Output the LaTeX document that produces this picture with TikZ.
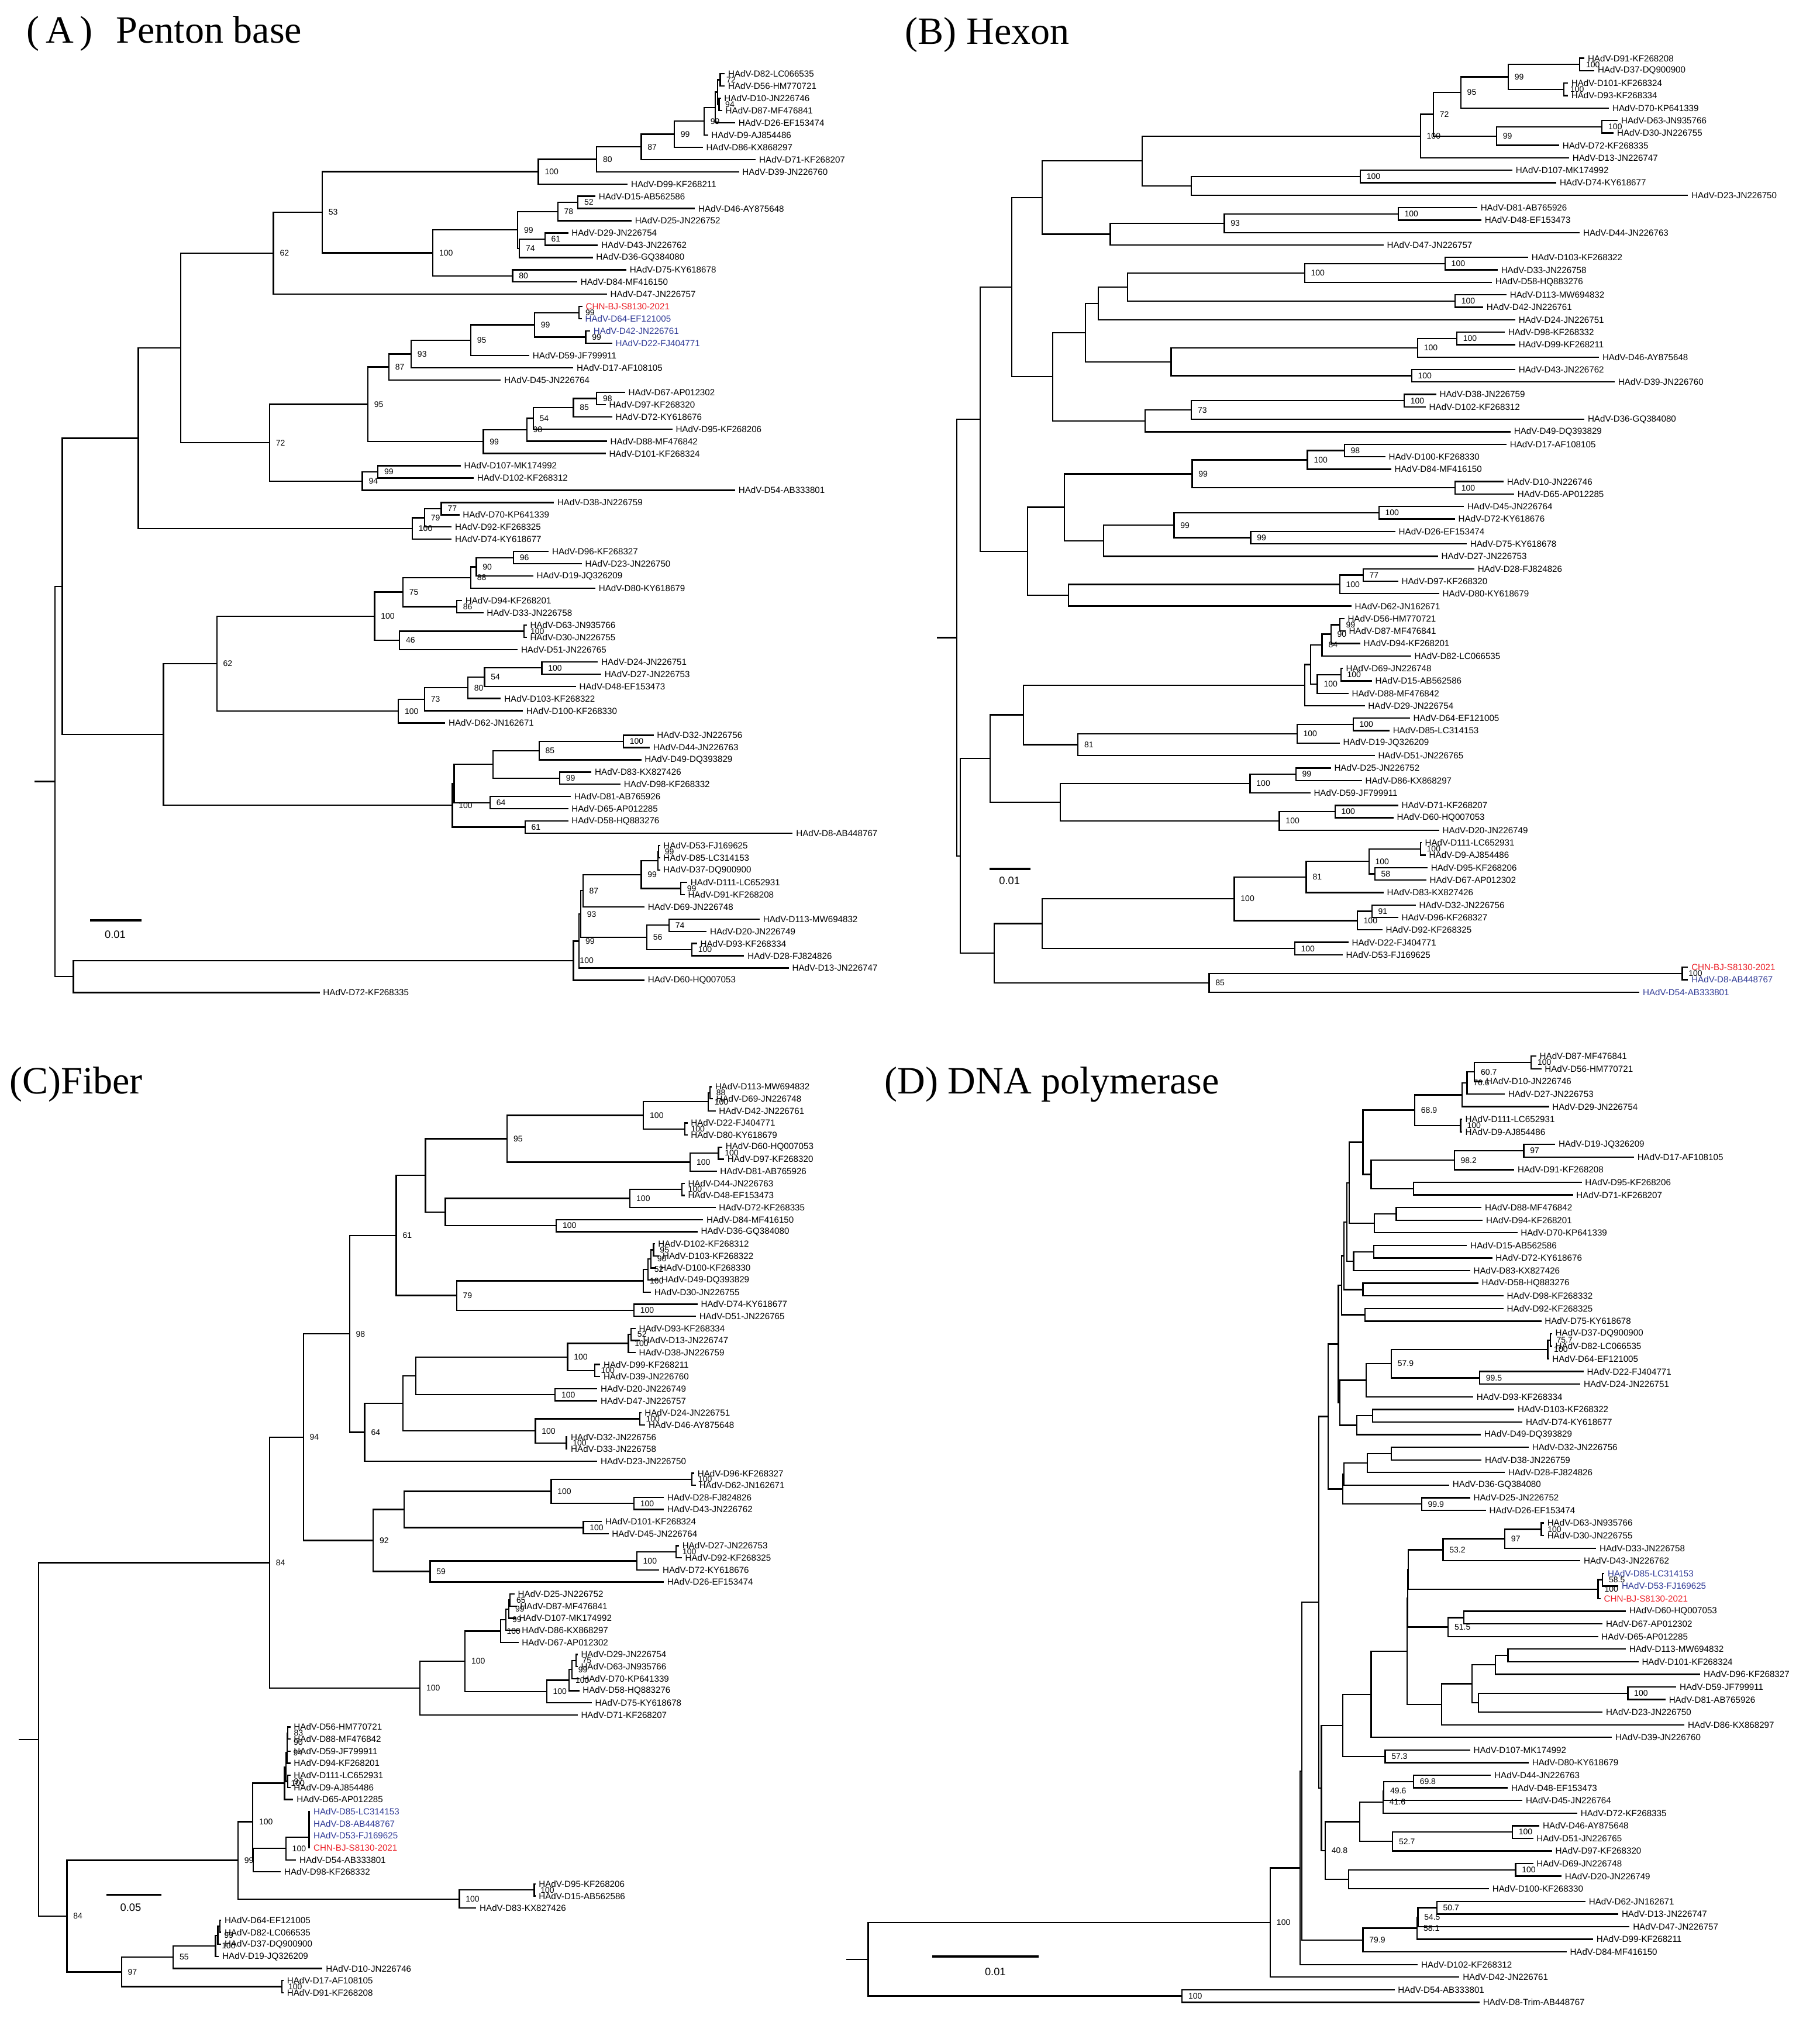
\documentclass[tikz,border=0pt]{standalone}
\usepackage{fontspec}
\setmainfont{Liberation Serif}
\setsansfont{Liberation Sans}
\usetikzlibrary{calc}

\definecolor{isolatered}{RGB}{236,32,40}
\definecolor{refblue}{RGB}{48,58,150}

\tikzset{
  treeline/.style={line width=0.6pt},
  leaflabel/.style={anchor=west, inner xsep=1.3pt, inner ysep=0.2pt, font=\sffamily\fontsize{3.9}{4.5}\selectfont},
  bootval/.style={anchor=west, inner xsep=2.6pt, inner ysep=0pt, font=\sffamily\fontsize{3.6}{4}\selectfont},
  isolate/.style={text=isolatered},
  refstrain/.style={text=refblue},
  paneltitle/.style={anchor=west, inner sep=0pt, font=\fontsize{17}{20}\selectfont},
  scalebar/.style={line width=1pt},
  scalelabel/.style={font=\sffamily\fontsize{4.7}{5}\selectfont}
}

% tip: [style]{name}{x of tip}{row}{label}
\newcommand\leaf[5][]{\node[leaflabel,#1] (#2) at (#3,{\ytop+(#4-1)*\ystep}) {#5};}
% clade: {name}{x}{upper child}{lower child}{bootstrap}
\newcommand\clade[5]{%
  \coordinate (mid) at ($(#3)!0.5!(#4)$);
  \coordinate (xpos) at (#2,0);
  \coordinate (#1) at (xpos |- mid);
  \draw[treeline] (#1) |- (#3) (#1) |- (#4);
  \node[bootval] at (#1) {#5};}
% root stub: {name}{x}{root}
\newcommand\stub[3]{\coordinate (xpos) at (#2,0); \coordinate (#1) at (xpos |- #3); \draw[treeline] (#1) -- (#3);}

\begin{document}
\begin{tikzpicture}[x=0.02cm,y=-0.02cm]
  \path[fill=white,use as bounding box] (0,0) rectangle (1406,1568);

  % PANEL A: PENTON BASE
  \begin{scope}
    \def\ytop{57}\def\ystep{9.467}
    \node[paneltitle] (ttlA) at (20,26) {(\,A\,)\hspace{6pt} Penton base};
    \leaf{A1}{560}{1}{HAdV-D82-LC066535}
    \leaf{A2}{560}{2}{HAdV-D56-HM770721}
    \leaf{A3}{557}{3}{HAdV-D10-JN226746}
    \leaf{A4}{558}{4}{HAdV-D87-MF476841}
    \leaf{A5}{568}{5}{HAdV-D26-EF153474}
    \leaf{A6}{547}{6}{HAdV-D9-AJ854486}
    \leaf{A7}{543}{7}{HAdV-D86-KX868297}
    \leaf{A8}{584}{8}{HAdV-D71-KF268207}
    \leaf{A9}{571}{9}{HAdV-D39-JN226760}
    \leaf{A10}{485}{10}{HAdV-D99-KF268211}
    \leaf{A11}{460}{11}{HAdV-D15-AB562586}
    \leaf{A12}{537}{12}{HAdV-D46-AY875648}
    \leaf{A13}{488}{13}{HAdV-D25-JN226752}
    \leaf{A14}{439}{14}{HAdV-D29-JN226754}
    \leaf{A15}{462}{15}{HAdV-D43-JN226762}
    \leaf{A16}{458}{16}{HAdV-D36-GQ384080}
    \leaf{A17}{484}{17}{HAdV-D75-KY618678}
    \leaf{A18}{446}{18}{HAdV-D84-MF416150}
    \leaf{A19}{469}{19}{HAdV-D47-JN226757}
    \leaf[isolate]{A20}{450}{20}{CHN-BJ-S8130-2021}
    \leaf[refstrain]{A21}{449.5}{21}{HAdV-D64-EF121005}
    \leaf[refstrain]{A22}{456}{22}{HAdV-D42-JN226761}
    \leaf[refstrain]{A23}{473}{23}{HAdV-D22-FJ404771}
    \leaf{A24}{409}{24}{HAdV-D59-JF799911}
    \leaf{A25}{443}{25}{HAdV-D17-AF108105}
    \leaf{A26}{387}{26}{HAdV-D45-JN226764}
    \leaf{A27}{483}{27}{HAdV-D67-AP012302}
    \leaf{A28}{468}{28}{HAdV-D97-KF268320}
    \leaf{A29}{473}{29}{HAdV-D72-KY618676}
    \leaf{A30}{519.5}{30}{HAdV-D95-KF268206}
    \leaf{A31}{469}{31}{HAdV-D88-MF476842}
    \leaf{A32}{468}{32}{HAdV-D101-KF268324}
    \leaf{A33}{356}{33}{HAdV-D107-MK174992}
    \leaf{A34}{366}{34}{HAdV-D102-KF268312}
    \leaf{A35}{568}{35}{HAdV-D54-AB333801}
    \leaf{A36}{428}{36}{HAdV-D38-JN226759}
    \leaf{A37}{355}{37}{HAdV-D70-KP641339}
    \leaf{A38}{349}{38}{HAdV-D92-KF268325}
    \leaf{A39}{349}{39}{HAdV-D74-KY618677}
    \leaf{A40}{424}{40}{HAdV-D96-KF268327}
    \leaf{A41}{449.5}{41}{HAdV-D23-JN226750}
    \leaf{A42}{412}{42}{HAdV-D19-JQ326209}
    \leaf{A43}{460}{43}{HAdV-D80-KY618679}
    \leaf{A44}{357}{44}{HAdV-D94-KF268201}
    \leaf{A45}{373.5}{45}{HAdV-D33-JN226758}
    \leaf{A46}{407}{46}{HAdV-D63-JN935766}
    \leaf{A47}{407}{47}{HAdV-D30-JN226755}
    \leaf{A48}{400}{48}{HAdV-D51-JN226765}
    \leaf{A49}{462}{49}{HAdV-D24-JN226751}
    \leaf{A50}{464.5}{50}{HAdV-D27-JN226753}
    \leaf{A51}{445}{51}{HAdV-D48-EF153473}
    \leaf{A52}{387}{52}{HAdV-D103-KF268322}
    \leaf{A53}{404}{53}{HAdV-D100-KF268330}
    \leaf{A54}{344}{54}{HAdV-D62-JN162671}
    \leaf{A55}{505}{55}{HAdV-D32-JN226756}
    \leaf{A56}{502}{56}{HAdV-D44-JN226763}
    \leaf{A57}{495.5}{57}{HAdV-D49-DQ393829}
    \leaf{A58}{457}{58}{HAdV-D83-KX827426}
    \leaf{A59}{479.5}{59}{HAdV-D98-KF268332}
    \leaf{A60}{441}{60}{HAdV-D81-AB765926}
    \leaf{A61}{439}{61}{HAdV-D65-AP012285}
    \leaf{A62}{439}{62}{HAdV-D58-HQ883276}
    \leaf{A63}{612.5}{63}{HAdV-D8-AB448767}
    \leaf{A64}{510}{64}{HAdV-D53-FJ169625}
    \leaf{A65}{510}{65}{HAdV-D85-LC314153}
    \leaf{A66}{510}{66}{HAdV-D37-DQ900900}
    \leaf{A67}{531}{67}{HAdV-D111-LC652931}
    \leaf{A68}{529}{68}{HAdV-D91-KF268208}
    \leaf{A69}{498}{69}{HAdV-D69-JN226748}
    \leaf{A70}{587}{70}{HAdV-D113-MW694832}
    \leaf{A71}{546}{71}{HAdV-D20-JN226749}
    \leaf{A72}{538.5}{72}{HAdV-D93-KF268334}
    \leaf{A73}{575}{73}{HAdV-D28-FJ824826}
    \leaf{A74}{609.5}{74}{HAdV-D13-JN226747}
    \leaf{A75}{498}{75}{HAdV-D60-HQ007053}
    \leaf{A76}{247}{76}{HAdV-D72-KF268335}
    % clades
    \clade{a1}{556.4}{A1}{A2}{72}
    \clade{a2}{555.5}{A3}{A4}{94}
    \clade{a3}{554.5}{a1}{a2}{}
    \clade{a4}{552.5}{a3}{A5}{}
    \clade{a5}{544}{a4}{A6}{99}
    \clade{a6}{521}{a5}{A7}{99}
    \clade{a7}{495.5}{a6}{A8}{87}
    \clade{a8}{461}{a7}{A9}{80}
    \clade{a9}{416}{a8}{A10}{100}
    \clade{a10}{446.5}{A11}{A12}{52}
    \clade{a11}{431}{a10}{A13}{78}
    \clade{a12}{421}{A14}{A15}{61}
    \clade{a13}{401.4}{a12}{A16}{74}
    \clade{a14}{400}{a11}{a13}{99}
    \clade{a15}{396}{A17}{A18}{80}
    \clade{a16}{334.5}{a14}{a15}{100}
    \clade{a17}{249}{a9}{a16}{53}
    \clade{a18}{211.3}{a17}{A19}{62}
    \clade{a19}{447.4}{A20}{A21}{99}
    \clade{a20}{452.5}{A22}{A23}{99}
    \clade{a21}{413}{a19}{a20}{99}
    \clade{a22}{363.7}{a21}{A24}{95}
    \clade{a23}{317.7}{a22}{A25}{93}
    \clade{a24}{300.5}{a23}{A26}{87}
    \clade{a26}{461}{A27}{A28}{98}
    \clade{a27}{443}{a26}{A29}{85}
    \clade{a28}{412}{a27}{A30}{54}
    \clade{a29}{407}{a28}{A31}{98}
    \clade{a30}{373.5}{a29}{A32}{99}
    \clade{a25}{284.2}{a24}{a30}{95}
    \clade{a31}{292}{A33}{A34}{99}
    \clade{a32}{280}{a31}{A35}{94}
    \clade{a33}{208.3}{a25}{a32}{72}
    \clade{a34}{139.6}{a18}{a33}{}
    \clade{a35}{341}{A36}{A37}{77}
    \clade{a36}{328}{a35}{A38}{79}
    \clade{a37}{318.6}{a36}{A39}{100}
    \clade{a38}{106.9}{a34}{a37}{}
    \clade{a40}{396.7}{A40}{A41}{96}
    \clade{a41}{368}{a40}{A42}{90}
    \clade{a42}{363.7}{a41}{A43}{88}
    \clade{a43}{352.9}{A44}{A45}{86}
    \clade{a44}{311.3}{a42}{a43}{75}
    \clade{a45}{405}{A46}{A47}{100}
    \clade{a46}{308.7}{a45}{A48}{46}
    \clade{a47}{289.4}{a44}{a46}{100}
    \clade{a48}{418.6}{A49}{A50}{100}
    \clade{a49}{374.4}{a48}{A51}{54}
    \clade{a50}{361.5}{a49}{A52}{80}
    \clade{a51}{328}{a50}{A53}{73}
    \clade{a52}{307.8}{a51}{A54}{100}
    \clade{a53}{167.5}{a47}{a52}{62}
    \clade{a54}{481.7}{A55}{A56}{100}
    \clade{a55}{416.5}{a54}{A57}{85}
    \clade{a56}{432.4}{A58}{A59}{99}
    \clade{a57}{380.8}{a55}{a56}{}
    \clade{a58}{378.7}{A60}{A61}{64}
    \clade{a59}{350.8}{a57}{a58}{}
    \clade{a60}{405.7}{A62}{A63}{61}
    \clade{a61}{349.5}{a59}{a60}{100}
    \clade{a62}{126.3}{a53}{a61}{}
    \clade{a39}{48.1}{a38}{a62}{}
    \clade{a63}{508.8}{A64}{A65}{99}
    \clade{a64}{508.3}{a63}{A66}{}
    \clade{a65}{526}{A67}{A68}{99}
    \clade{a66}{495.5}{a64}{a65}{99}
    \clade{a67}{450.4}{a66}{A69}{87}
    \clade{a68}{516.9}{A70}{A71}{74}
    \clade{a69}{534.5}{A72}{A73}{100}
    \clade{a70}{499.8}{a68}{a69}{56}
    \clade{a71}{448.7}{a67}{a70}{93}
    \clade{a72}{447.4}{a71}{A74}{99}
    \clade{a73}{443.1}{a72}{A75}{100}
    \clade{a74}{56.7}{a73}{A76}{}
    \clade{a75}{42.5}{a39}{a74}{}
    \stub{a0}{26.7}{a75}
    % scale
    \coordinate (sbA1) at (69.6,711.4); \coordinate (sbA2) at (109.5,711.4);
    \draw[scalebar] (sbA1) -- (sbA2);
    \node[scalelabel] (sbAt) at (89,722) {0.01};
  \end{scope}

  % PANEL B: HEXON
  \begin{scope}
    \def\ytop{45}\def\ystep{9.623}
    \node[paneltitle] (ttlB) at (699,27) {(B) Hexon};
    \leaf{B1}{1224.2}{1}{HAdV-D91-KF268208}
    \leaf{B2}{1231.9}{2}{HAdV-D37-DQ900900}
    \leaf{B3}{1211.5}{3}{HAdV-D101-KF268324}
    \leaf{B4}{1211.5}{4}{HAdV-D93-KF268334}
    \leaf{B5}{1243.2}{5}{HAdV-D70-KP641339}
    \leaf{B6}{1250}{6}{HAdV-D63-JN935766}
    \leaf{B7}{1246.8}{7}{HAdV-D30-JN226755}
    \leaf{B8}{1204.7}{8}{HAdV-D72-KF268335}
    \leaf{B9}{1212.4}{9}{HAdV-D13-JN226747}
    \leaf{B10}{1168.6}{10}{HAdV-D107-MK174992}
    \leaf{B11}{1202.5}{11}{HAdV-D74-KY618677}
    \leaf{B12}{1304.3}{12}{HAdV-D23-JN226750}
    \leaf{B13}{1141.4}{13}{HAdV-D81-AB765926}
    \leaf{B14}{1144.6}{14}{HAdV-D48-EF153473}
    \leaf{B15}{1220.6}{15}{HAdV-D44-JN226763}
    \leaf{B16}{1069}{16}{HAdV-D47-JN226757}
    \leaf{B17}{1180.8}{17}{HAdV-D103-KF268322}
    \leaf{B18}{1157.2}{18}{HAdV-D33-JN226758}
    \leaf{B19}{1152.7}{19}{HAdV-D58-HQ883276}
    \leaf{B20}{1164}{20}{HAdV-D113-MW694832}
    \leaf{B21}{1146}{21}{HAdV-D42-JN226761}
    \leaf{B22}{1170.8}{22}{HAdV-D24-JN226751}
    \leaf{B23}{1162.7}{23}{HAdV-D98-KF268332}
    \leaf{B24}{1170.8}{24}{HAdV-D99-KF268211}
    \leaf{B25}{1235.5}{25}{HAdV-D46-AY875648}
    \leaf{B26}{1170.8}{26}{HAdV-D43-JN226762}
    \leaf{B27}{1247.7}{27}{HAdV-D39-JN226760}
    \leaf{B28}{1109.7}{28}{HAdV-D38-JN226759}
    \leaf{B29}{1101.6}{29}{HAdV-D102-KF268312}
    \leaf{B30}{1224.2}{30}{HAdV-D36-GQ384080}
    \leaf{B31}{1167.2}{31}{HAdV-D49-DQ393829}
    \leaf{B32}{1164}{32}{HAdV-D17-AF108105}
    \leaf{B33}{1070.4}{33}{HAdV-D100-KF268330}
    \leaf{B34}{1074.9}{34}{HAdV-D84-MF416150}
    \leaf{B35}{1161.8}{35}{HAdV-D10-JN226746}
    \leaf{B36}{1169.9}{36}{HAdV-D65-AP012285}
    \leaf{B37}{1131}{37}{HAdV-D45-JN226764}
    \leaf{B38}{1124.2}{38}{HAdV-D72-KY618676}
    \leaf{B39}{1078.1}{39}{HAdV-D26-EF153474}
    \leaf{B40}{1133.3}{40}{HAdV-D75-KY618678}
    \leaf{B41}{1111.1}{41}{HAdV-D27-JN226753}
    \leaf{B42}{1139.2}{42}{HAdV-D28-FJ824826}
    \leaf{B43}{1080.3}{43}{HAdV-D97-KF268320}
    \leaf{B44}{1112}{44}{HAdV-D80-KY618679}
    \leaf{B45}{1044.2}{45}{HAdV-D62-JN162671}
    \leaf{B46}{1038.7}{46}{HAdV-D56-HM770721}
    \leaf{B47}{1039.6}{47}{HAdV-D87-MF476841}
    \leaf{B48}{1051}{48}{HAdV-D94-KF268201}
    \leaf{B49}{1090.3}{49}{HAdV-D82-LC066535}
    \leaf{B50}{1037.4}{50}{HAdV-D69-JN226748}
    \leaf{B51}{1060}{51}{HAdV-D15-AB562586}
    \leaf{B52}{1041.9}{52}{HAdV-D88-MF476842}
    \leaf{B53}{1054.5}{53}{HAdV-D29-JN226754}
    \leaf{B54}{1089.4}{54}{HAdV-D64-EF121005}
    \leaf{B55}{1073.6}{55}{HAdV-D85-LC314153}
    \leaf{B56}{1035.1}{56}{HAdV-D19-JQ326209}
    \leaf{B57}{1062.2}{57}{HAdV-D51-JN226765}
    \leaf{B58}{1028.3}{58}{HAdV-D25-JN226752}
    \leaf{B59}{1052.3}{59}{HAdV-D86-KX868297}
    \leaf{B60}{1012.5}{60}{HAdV-D59-JF799911}
    \leaf{B61}{1080.3}{61}{HAdV-D71-KF268207}
    \leaf{B62}{1076.7}{62}{HAdV-D60-HQ007053}
    \leaf{B63}{1112}{63}{HAdV-D20-JN226749}
    \leaf{B64}{1098.4}{64}{HAdV-D111-LC652931}
    \leaf{B65}{1101.6}{65}{HAdV-D9-AJ854486}
    \leaf{B66}{1103}{66}{HAdV-D95-KF268206}
    \leaf{B67}{1102}{67}{HAdV-D67-AP012302}
    \leaf{B68}{1069}{68}{HAdV-D83-KX827426}
    \leaf{B69}{1093.9}{69}{HAdV-D32-JN226756}
    \leaf{B70}{1080.3}{70}{HAdV-D96-KF268327}
    \leaf{B71}{1068.1}{71}{HAdV-D92-KF268325}
    \leaf{B72}{1041.9}{72}{HAdV-D22-FJ404771}
    \leaf{B73}{1037.4}{73}{HAdV-D53-FJ169625}
    \leaf[isolate]{B74}{1304.3}{74}{CHN-BJ-S8130-2021}
    \leaf[refstrain]{B75}{1304.3}{75}{HAdV-D8-AB448767}
    \leaf[refstrain]{B76}{1266.7}{76}{HAdV-D54-AB333801}
    % clades
    \clade{b1}{1220.6}{B1}{B2}{100}
    \clade{b2}{1208.4}{B3}{B4}{100}
    \clade{b3}{1165.4}{b1}{b2}{99}
    \clade{b4}{1128.7}{b3}{B5}{95}
    \clade{b5}{1237.8}{B6}{B7}{100}
    \clade{b6}{1156.3}{b5}{B8}{99}
    \clade{b7}{1107.5}{b4}{b6}{72}
    \clade{b8}{1097.5}{b7}{B9}{100}
    \clade{b9}{1051}{B10}{B11}{100}
    \clade{b10}{920.6}{b9}{B12}{}
    \clade{b11}{882.6}{b8}{b10}{}
    \clade{b12}{1080.3}{B13}{B14}{100}
    \clade{b13}{946}{b12}{B15}{93}
    \clade{b14}{857.8}{b13}{B16}{}
    \clade{b15}{805.3}{b11}{b14}{}
    \clade{b16}{1116.5}{B17}{B18}{100}
    \clade{b17}{1008}{b16}{B19}{100}
    \clade{b18}{1124.2}{B20}{B21}{100}
    \clade{b19}{871.3}{b17}{b18}{}
    \clade{b20}{848.7}{b19}{B22}{}
    \clade{b21}{1125.6}{B23}{B24}{100}
    \clade{b22}{1095.3}{b21}{B25}{100}
    \clade{b23}{1090.7}{B26}{B27}{100}
    \clade{b24}{904.8}{b22}{b23}{}
    \clade{b25}{838.8}{b20}{b24}{}
    \clade{b26}{1084.9}{B28}{B29}{100}
    \clade{b27}{920.6}{b26}{B30}{73}
    \clade{b28}{884.9}{b27}{B31}{}
    \clade{b29}{813.4}{b25}{b28}{}
    \clade{b30}{781.8}{b15}{b29}{}
    \clade{b31}{1038.7}{B32}{B33}{98}
    \clade{b32}{1010.2}{b31}{B34}{100}
    \clade{b33}{1124.2}{B35}{B36}{100}
    \clade{b34}{921.1}{b32}{b33}{99}
    \clade{b35}{1065.4}{B37}{B38}{100}
    \clade{b36}{966.3}{B39}{B40}{99}
    \clade{b37}{907.1}{b35}{b36}{99}
    \clade{b38}{852.8}{b37}{B41}{}
    \clade{b39}{822.5}{b34}{b38}{}
    \clade{b40}{1053.2}{B42}{B43}{77}
    \clade{b41}{1035.1}{b40}{B44}{100}
    \clade{b42}{825.6}{b41}{B45}{}
    \clade{b43}{794}{b39}{b42}{}
    \clade{b44}{757.3}{b30}{b43}{}
    \clade{b45}{1035.1}{B46}{B47}{99}
    \clade{b46}{1028.3}{b45}{B48}{90}
    \clade{b47}{1021.5}{b46}{B49}{84}
    \clade{b48}{1036}{B50}{B51}{100}
    \clade{b49}{1017.9}{b48}{B52}{100}
    \clade{b50}{1012.5}{b47}{b49}{}
    \clade{b51}{1008}{b50}{B53}{}
    \clade{b52}{1045.5}{B54}{B55}{100}
    \clade{b53}{1002.1}{b52}{B56}{100}
    \clade{b54}{832.9}{b53}{B57}{81}
    \clade{b55}{790.8}{b51}{b54}{}
    \clade{b56}{1001.2}{B58}{B59}{99}
    \clade{b57}{965.9}{b56}{B60}{100}
    \clade{b58}{1031.5}{B61}{B62}{100}
    \clade{b59}{988.5}{b58}{B63}{100}
    \clade{b60}{819.3}{b57}{b59}{}
    \clade{b61}{765}{b55}{b60}{}
    \clade{b62}{1097.5}{B64}{B65}{100}
    \clade{b63}{1062.2}{B66}{B67}{58}
    \clade{b64}{1057.7}{b62}{b63}{100}
    \clade{b65}{1009.3}{b64}{B68}{81}
    \clade{b66}{1060}{B69}{B70}{91}
    \clade{b67}{1048.7}{b66}{B71}{100}
    \clade{b68}{953.7}{b65}{b67}{100}
    \clade{b69}{1000.3}{B72}{B73}{100}
    \clade{b70}{805.3}{b68}{b69}{}
    \clade{b71}{1299.8}{B74}{B75}{100}
    \clade{b72}{934.2}{b71}{B76}{85}
    \clade{b73}{768.2}{b70}{b72}{}
    \clade{b74}{742}{b61}{b73}{}
    \clade{b75}{739.2}{b44}{b74}{}
    \stub{b0}{723.9}{b75}
    % scale
    \coordinate (sbB1) at (764.6,671.5); \coordinate (sbB2) at (796.2,671.5);
    \draw[scalebar] (sbB1) -- (sbB2);
    \node[scalelabel] (sbBt) at (780,680.5) {0.01};
  \end{scope}

  % PANEL C: FIBER
  \begin{scope}
    \def\ytop{839.8}\def\ystep{9.335}
    \node[paneltitle] (ttlC) at (7,838) {(C)Fiber};
    \leaf{C1}{549.9}{1}{HAdV-D113-MW694832}
    \leaf{C2}{550.7}{2}{HAdV-D69-JN226748}
    \leaf{C3}{552.9}{3}{HAdV-D42-JN226761}
    \leaf{C4}{531.2}{4}{HAdV-D22-FJ404771}
    \leaf{C5}{531.2}{5}{HAdV-D80-KY618679}
    \leaf{C6}{558.1}{6}{HAdV-D60-HQ007053}
    \leaf{C7}{559.4}{7}{HAdV-D97-KF268320}
    \leaf{C8}{553.8}{8}{HAdV-D81-AB765926}
    \leaf{C9}{529}{9}{HAdV-D44-JN226763}
    \leaf{C10}{529}{10}{HAdV-D48-EF153473}
    \leaf{C11}{552.9}{11}{HAdV-D72-KF268335}
    \leaf{C12}{543.3}{12}{HAdV-D84-MF416150}
    \leaf{C13}{539}{13}{HAdV-D36-GQ384080}
    \leaf{C14}{505.9}{14}{HAdV-D102-KF268312}
    \leaf{C15}{509.4}{15}{HAdV-D103-KF268322}
    \leaf{C16}{507.2}{16}{HAdV-D100-KF268330}
    \leaf{C17}{508.5}{17}{HAdV-D49-DQ393829}
    \leaf{C18}{502.9}{18}{HAdV-D30-JN226755}
    \leaf{C19}{539}{19}{HAdV-D74-KY618677}
    \leaf{C20}{537.7}{20}{HAdV-D51-JN226765}
    \leaf{C21}{491.1}{21}{HAdV-D93-KF268334}
    \leaf{C22}{494.2}{22}{HAdV-D13-JN226747}
    \leaf{C23}{491.1}{23}{HAdV-D38-JN226759}
    \leaf{C24}{463.7}{24}{HAdV-D99-KF268211}
    \leaf{C25}{463.7}{25}{HAdV-D39-JN226760}
    \leaf{C26}{461.5}{26}{HAdV-D20-JN226749}
    \leaf{C27}{461.5}{27}{HAdV-D47-JN226757}
    \leaf{C28}{495.5}{28}{HAdV-D24-JN226751}
    \leaf{C29}{498.5}{29}{HAdV-D46-AY875648}
    \leaf{C30}{438.5}{30}{HAdV-D32-JN226756}
    \leaf{C31}{438.5}{31}{HAdV-D33-JN226758}
    \leaf{C32}{461.5}{32}{HAdV-D23-JN226750}
    \leaf{C33}{536.4}{33}{HAdV-D96-KF268327}
    \leaf{C34}{537.7}{34}{HAdV-D62-JN162671}
    \leaf{C35}{512.9}{35}{HAdV-D28-FJ824826}
    \leaf{C36}{512.9}{36}{HAdV-D43-JN226762}
    \leaf{C37}{465}{37}{HAdV-D101-KF268324}
    \leaf{C38}{470.2}{38}{HAdV-D45-JN226764}
    \leaf{C39}{524.6}{39}{HAdV-D27-JN226753}
    \leaf{C40}{526.8}{40}{HAdV-D92-KF268325}
    \leaf{C41}{509.4}{41}{HAdV-D72-KY618676}
    \leaf{C42}{512.9}{42}{HAdV-D26-EF153474}
    \leaf{C43}{397.6}{43}{HAdV-D25-JN226752}
    \leaf{C44}{399.3}{44}{HAdV-D87-MF476841}
    \leaf{C45}{398.4}{45}{HAdV-D107-MK174992}
    \leaf{C46}{400.6}{46}{HAdV-D86-KX868297}
    \leaf{C47}{400.6}{47}{HAdV-D67-AP012302}
    \leaf{C48}{446.3}{48}{HAdV-D29-JN226754}
    \leaf{C49}{446.3}{49}{HAdV-D63-JN935766}
    \leaf{C50}{447.6}{50}{HAdV-D70-KP641339}
    \leaf{C51}{447.6}{51}{HAdV-D58-HQ883276}
    \leaf{C52}{457.2}{52}{HAdV-D75-KY618678}
    \leaf{C53}{446.3}{53}{HAdV-D71-KF268207}
    \leaf{C54}{224.4}{54}{HAdV-D56-HM770721}
    \leaf{C55}{224.4}{55}{HAdV-D88-MF476842}
    \leaf{C56}{224.4}{56}{HAdV-D59-JF799911}
    \leaf{C57}{224.4}{57}{HAdV-D94-KF268201}
    \leaf{C58}{224.4}{58}{HAdV-D111-LC652931}
    \leaf{C59}{224.4}{59}{HAdV-D9-AJ854486}
    \leaf{C60}{226.6}{60}{HAdV-D65-AP012285}
    \leaf[refstrain]{C61}{239.6}{61}{HAdV-D85-LC314153}
    \leaf[refstrain]{C62}{239.6}{62}{HAdV-D8-AB448767}
    \leaf[refstrain]{C63}{239.6}{63}{HAdV-D53-FJ169625}
    \leaf[isolate]{C64}{239.6}{64}{CHN-BJ-S8130-2021}
    \leaf{C65}{228.8}{65}{HAdV-D54-AB333801}
    \leaf{C66}{217}{66}{HAdV-D98-KF268332}
    \leaf{C67}{413.7}{67}{HAdV-D95-KF268206}
    \leaf{C68}{413.7}{68}{HAdV-D15-AB562586}
    \leaf{C69}{368}{69}{HAdV-D83-KX827426}
    \leaf{C70}{170.9}{70}{HAdV-D64-EF121005}
    \leaf{C71}{170.9}{71}{HAdV-D82-LC066535}
    \leaf{C72}{170.9}{72}{HAdV-D37-DQ900900}
    \leaf{C73}{169.2}{73}{HAdV-D19-JQ326209}
    \leaf{C74}{249.2}{74}{HAdV-D10-JN226746}
    \leaf{C75}{219.2}{75}{HAdV-D17-AF108105}
    \leaf{C76}{219.2}{76}{HAdV-D91-KF268208}
    % clades
    \clade{c1}{548.6}{C1}{C2}{88}
    \clade{c2}{547.2}{c1}{C3}{100}
    \clade{c3}{529}{C4}{C5}{100}
    \clade{c4}{497.2}{c2}{c3}{100}
    \clade{c5}{555.1}{C6}{C7}{100}
    \clade{c6}{533.3}{c5}{C8}{100}
    \clade{c7}{391.9}{c4}{c6}{95}
    \clade{c8}{526.8}{C9}{C10}{100}
    \clade{c9}{486.8}{c8}{C11}{100}
    \clade{c10}{429.8}{C12}{C13}{100}
    \clade{c11}{344.1}{c9}{c10}{}
    \clade{c12}{328.8}{c7}{c11}{}
    \clade{c13}{505}{C14}{C15}{95}
    \clade{c14}{502.9}{c13}{C16}{90}
    \clade{c15}{500.7}{c14}{C17}{52}
    \clade{c16}{497.2}{c15}{C18}{100}
    \clade{c17}{489.8}{C19}{C20}{100}
    \clade{c18}{352.8}{c16}{c17}{79}
    \clade{c19}{306.2}{c12}{c18}{61}
    \clade{c20}{487.6}{C21}{C22}{52}
    \clade{c21}{485.5}{c20}{C23}{100}
    \clade{c22}{459.4}{C24}{C25}{100}
    \clade{c23}{438.5}{c21}{c22}{100}
    \clade{c24}{428.9}{C26}{C27}{100}
    \clade{c25}{321.4}{c23}{c24}{}
    \clade{c26}{494.2}{C28}{C29}{100}
    \clade{c27}{437.6}{C30}{C31}{100}
    \clade{c28}{413.7}{c26}{c27}{100}
    \clade{c29}{311.4}{c25}{c28}{}
    \clade{c30}{281.8}{c29}{C32}{64}
    \clade{c40}{270.1}{c19}{c30}{98}
    \clade{c31}{534.6}{C33}{C34}{100}
    \clade{c32}{489.8}{C35}{C36}{100}
    \clade{c33}{425.9}{c31}{c32}{100}
    \clade{c34}{450.7}{C37}{C38}{100}
    \clade{c35}{312.3}{c33}{c34}{}
    \clade{c36}{522.4}{C39}{C40}{100}
    \clade{c37}{492}{c36}{C41}{100}
    \clade{c38}{332.3}{c37}{C42}{59}
    \clade{c39}{288.4}{c35}{c38}{92}
    \clade{c41}{234.4}{c40}{c39}{94}
    \clade{c42}{394.1}{C43}{C44}{65}
    \clade{c43}{393.2}{c42}{C45}{99}
    \clade{c44}{391}{c43}{C46}{99}
    \clade{c45}{386.7}{c44}{C47}{100}
    \clade{c46}{445}{C48}{C49}{75}
    \clade{c47}{441.9}{c46}{C50}{99}
    \clade{c48}{439.8}{c47}{C51}{100}
    \clade{c49}{422.4}{c48}{C52}{100}
    \clade{c50}{359.3}{c45}{c49}{100}
    \clade{c51}{324.5}{c50}{C53}{100}
    \clade{c52}{208.3}{c41}{c51}{84}
    \clade{c53}{222.2}{C54}{C55}{83}
    \clade{c54}{222}{c53}{C56}{90}
    \clade{c55}{221.8}{c54}{C57}{94}
    \clade{c56}{222.2}{C58}{C59}{97}
    \clade{c57}{221}{c55}{c56}{}
    \clade{c58}{219.9}{c57}{C60}{100}
    \clade{c59}{238.8}{C61}{C62}{}
    \clade{c60}{238.8}{c59}{C63}{}
    \clade{c61}{238.8}{c60}{C64}{}
    \clade{c62}{220.9}{c61}{C65}{100}
    \clade{c63}{195.7}{c62}{C66}{}
    \clade{c64}{195.3}{c58}{c63}{100}
    \clade{c65}{412.8}{C67}{C68}{100}
    \clade{c66}{354.9}{c65}{C69}{100}
    \clade{c67}{183.9}{c64}{c66}{99}
    \clade{c69}{170}{C70}{C71}{}
    \clade{c70}{168.3}{c69}{C72}{99}
    \clade{c71}{166.5}{c70}{C73}{100}
    \clade{c72}{133.9}{c71}{C74}{55}
    \clade{c73}{217.9}{C75}{C76}{100}
    \clade{c74}{93.9}{c72}{c73}{97}
    \clade{c75}{51.7}{c67}{c74}{84}
    \clade{c76}{29.9}{c52}{c75}{}
    \stub{c0}{14.3}{c76}
    % scale
    \coordinate (sbC1) at (82.1,1464.3); \coordinate (sbC2) at (124.8,1464.3);
    \draw[scalebar] (sbC1) -- (sbC2);
    \node[scalelabel] (sbCt) at (101,1474) {0.05};
  \end{scope}

  % PANEL D: DNA POLYMERASE
  \begin{scope}
    \def\ytop{816.2}\def\ystep{9.749}
    \node[paneltitle] (ttlD) at (683,838) {(D) DNA polymerase};
    \leaf{D1}{1187}{1}{HAdV-D87-MF476841}
    \leaf{D2}{1190.9}{2}{HAdV-D56-HM770721}
    \leaf{D3}{1145.6}{3}{HAdV-D10-JN226746}
    \leaf{D4}{1162.7}{4}{HAdV-D27-JN226753}
    \leaf{D5}{1196.8}{5}{HAdV-D29-JN226754}
    \leaf{D6}{1129.6}{6}{HAdV-D111-LC652931}
    \leaf{D7}{1129.6}{7}{HAdV-D9-AJ854486}
    \leaf{D8}{1201.6}{8}{HAdV-D19-JQ326209}
    \leaf{D9}{1262.5}{9}{HAdV-D17-AF108105}
    \leaf{D10}{1170}{10}{HAdV-D91-KF268208}
    \leaf{D11}{1222.1}{11}{HAdV-D95-KF268206}
    \leaf{D12}{1215.3}{12}{HAdV-D71-KF268207}
    \leaf{D13}{1144.7}{13}{HAdV-D88-MF476842}
    \leaf{D14}{1145.6}{14}{HAdV-D94-KF268201}
    \leaf{D15}{1172.4}{15}{HAdV-D70-KP641339}
    \leaf{D16}{1133.5}{16}{HAdV-D15-AB562586}
    \leaf{D17}{1153}{17}{HAdV-D72-KY618676}
    \leaf{D18}{1135.9}{18}{HAdV-D83-KX827426}
    \leaf{D19}{1142.2}{19}{HAdV-D58-HQ883276}
    \leaf{D20}{1161.7}{20}{HAdV-D98-KF268332}
    \leaf{D21}{1161.7}{21}{HAdV-D92-KF268325}
    \leaf{D22}{1190.9}{22}{HAdV-D75-KY618678}
    \leaf{D23}{1199.2}{23}{HAdV-D37-DQ900900}
    \leaf{D24}{1199.2}{24}{HAdV-D82-LC066535}
    \leaf{D25}{1196.8}{25}{HAdV-D64-EF121005}
    \leaf{D26}{1223.6}{26}{HAdV-D22-FJ404771}
    \leaf{D27}{1221.1}{27}{HAdV-D24-JN226751}
    \leaf{D28}{1138.3}{28}{HAdV-D93-KF268334}
    \leaf{D29}{1170}{29}{HAdV-D103-KF268322}
    \leaf{D30}{1176.3}{30}{HAdV-D74-KY618677}
    \leaf{D31}{1144.2}{31}{HAdV-D49-DQ393829}
    \leaf{D32}{1181.2}{32}{HAdV-D32-JN226756}
    \leaf{D33}{1144.7}{33}{HAdV-D38-JN226759}
    \leaf{D34}{1162.7}{34}{HAdV-D28-FJ824826}
    \leaf{D35}{1119.8}{35}{HAdV-D36-GQ384080}
    \leaf{D36}{1135.9}{36}{HAdV-D25-JN226752}
    \leaf{D37}{1148.1}{37}{HAdV-D26-EF153474}
    \leaf{D38}{1192.9}{38}{HAdV-D63-JN935766}
    \leaf{D39}{1192.9}{39}{HAdV-D30-JN226755}
    \leaf{D40}{1233.3}{40}{HAdV-D33-JN226758}
    \leaf{D41}{1221.1}{41}{HAdV-D43-JN226762}
    \leaf[refstrain]{D42}{1239.6}{42}{HAdV-D85-LC314153}
    \leaf[refstrain]{D43}{1250.4}{43}{HAdV-D53-FJ169625}
    \leaf[isolate]{D44}{1236.7}{44}{CHN-BJ-S8130-2021}
    \leaf{D45}{1256.2}{45}{HAdV-D60-HQ007053}
    \leaf{D46}{1238.2}{46}{HAdV-D67-AP012302}
    \leaf{D47}{1234.8}{47}{HAdV-D65-AP012285}
    \leaf{D48}{1256.2}{48}{HAdV-D113-MW694832}
    \leaf{D49}{1266}{49}{HAdV-D101-KF268324}
    \leaf{D50}{1313.7}{50}{HAdV-D96-KF268327}
    \leaf{D51}{1295.2}{51}{HAdV-D59-JF799911}
    \leaf{D52}{1286.9}{52}{HAdV-D81-AB765926}
    \leaf{D53}{1238.2}{53}{HAdV-D23-JN226750}
    \leaf{D54}{1301.5}{54}{HAdV-D86-KX868297}
    \leaf{D55}{1245.5}{55}{HAdV-D39-JN226760}
    \leaf{D56}{1135.9}{56}{HAdV-D107-MK174992}
    \leaf{D57}{1181.2}{57}{HAdV-D80-KY618679}
    \leaf{D58}{1152}{58}{HAdV-D44-JN226763}
    \leaf{D59}{1165.1}{59}{HAdV-D48-EF153473}
    \leaf{D60}{1176.3}{60}{HAdV-D45-JN226764}
    \leaf{D61}{1218.7}{61}{HAdV-D72-KF268335}
    \leaf{D62}{1189.5}{62}{HAdV-D46-AY875648}
    \leaf{D63}{1184.6}{63}{HAdV-D51-JN226765}
    \leaf{D64}{1199.2}{64}{HAdV-D97-KF268320}
    \leaf{D65}{1184.6}{65}{HAdV-D69-JN226748}
    \leaf{D66}{1206.5}{66}{HAdV-D20-JN226749}
    \leaf{D67}{1150.5}{67}{HAdV-D100-KF268330}
    \leaf{D68}{1225}{68}{HAdV-D62-JN162671}
    \leaf{D69}{1250.4}{69}{HAdV-D13-JN226747}
    \leaf{D70}{1259.1}{70}{HAdV-D47-JN226757}
    \leaf{D71}{1230.9}{71}{HAdV-D99-KF268211}
    \leaf{D72}{1210.4}{72}{HAdV-D84-MF416150}
    \leaf{D73}{1095.5}{73}{HAdV-D102-KF268312}
    \leaf{D74}{1127.6}{74}{HAdV-D42-JN226761}
    \leaf{D75}{1077.5}{75}{HAdV-D54-AB333801}
    \leaf{D76}{1143.2}{76}{HAdV-D8-Trim-AB448767}
    % clades
    \clade{d1}{1183.1}{D1}{D2}{100}
    \clade{d2}{1139.3}{d1}{D3}{60.7}
    \clade{d3}{1133.5}{d2}{D4}{76.6}
    \clade{d4}{1129.6}{d3}{D5}{}
    \clade{d5}{1128.6}{D6}{D7}{100}
    \clade{d6}{1093.1}{d4}{d5}{68.9}
    \clade{d7}{1177.3}{D8}{D9}{97}
    \clade{d8}{1123.7}{d7}{D10}{98.2}
    \clade{d9}{1092.1}{D11}{D12}{}
    \clade{d10}{1059.4}{d8}{d9}{}
    \clade{d11}{1053.1}{d6}{d10}{}
    \clade{d12}{1078.9}{D13}{D14}{}
    \clade{d13}{1061.9}{d12}{D15}{}
    \clade{d14}{1042.5}{d11}{d13}{}
    \clade{d15}{1061.4}{D16}{D17}{}
    \clade{d16}{1045.8}{d15}{D18}{}
    \clade{d19}{1040.5}{d14}{d16}{}
    \clade{d17}{1053.1}{D19}{D20}{}
    \clade{d20}{1038.5}{d19}{d17}{}
    \clade{d18}{1054.6}{D21}{D22}{}
    \clade{d21}{1036.5}{d20}{d18}{}
    \clade{d22}{1197.8}{D23}{D24}{75.7}
    \clade{d23}{1195.8}{d22}{D25}{100}
    \clade{d24}{1143.2}{D26}{D27}{99.5}
    \clade{d25}{1075}{d23}{d24}{57.9}
    \clade{d26}{1055.6}{d25}{D28}{}
    \clade{d27}{1060.4}{D29}{D30}{}
    \clade{d28}{1048.3}{d27}{D31}{}
    \clade{d29}{1035.1}{d26}{d28}{}
    \clade{d30}{1075}{D32}{D33}{}
    \clade{d31}{1056.5}{d30}{D34}{}
    \clade{d32}{1038.5}{d31}{D35}{}
    \clade{d33}{1098.4}{D36}{D37}{99.9}
    \clade{d34}{1037.5}{d32}{d33}{}
    \clade{d35}{1034.1}{d21}{d29}{}
    \clade{d36}{1026.3}{d35}{d34}{}
    \clade{d37}{1190.9}{D38}{D39}{100}
    \clade{d38}{1162.7}{d37}{D40}{97}
    \clade{d39}{1115}{d38}{D41}{53.2}
    \clade{d40}{1238.2}{D42}{D43}{58.5}
    \clade{d41}{1234.8}{d40}{D44}{100}
    \clade{d42}{1131}{D45}{D46}{}
    \clade{d43}{1118.9}{d42}{D47}{51.5}
    \clade{d44}{1165.1}{D48}{D49}{}
    \clade{d45}{1155.4}{d44}{D50}{}
    \clade{d46}{1257.7}{D51}{D52}{100}
    \clade{d47}{1142.2}{d46}{D53}{}
    \clade{d48}{1137.4}{d45}{d47}{}
    \clade{d49}{1114}{d48}{D54}{}
    \clade{d50}{1088.2}{d39}{d41}{}
    \clade{d51}{1087.7}{d50}{d43}{}
    \clade{d52}{1087.2}{d51}{d49}{}
    \clade{d53}{1059.4}{d52}{D55}{}
    \clade{d54}{1070.2}{D56}{D57}{57.3}
    \clade{d55}{1037.5}{d53}{d54}{}
    \clade{d56}{1092.1}{D58}{D59}{69.8}
    \clade{d57}{1069.2}{d56}{D60}{49.6}
    \clade{d58}{1068.7}{d57}{D61}{41.6}
    \clade{d59}{1168.5}{D62}{D63}{100}
    \clade{d60}{1076}{d59}{D64}{52.7}
    \clade{d61}{1050.7}{d58}{d60}{}
    \clade{d62}{1171}{D65}{D66}{100}
    \clade{d63}{1041.9}{d62}{D67}{}
    \clade{d64}{1023.9}{d61}{d63}{40.8}
    \clade{d65}{1021}{d55}{d64}{}
    \clade{d66}{1019}{d36}{d65}{}
    \clade{d67}{1110.1}{D68}{D69}{50.7}
    \clade{d68}{1095.5}{d67}{D70}{54.5}
    \clade{d69}{1095}{d68}{D71}{58.1}
    \clade{d70}{1053.1}{d69}{D72}{79.9}
    \clade{d71}{1005.9}{d66}{d70}{}
    \clade{d72}{1004.4}{d71}{D73}{}
    \clade{d73}{981.5}{d72}{D74}{100}
    \clade{d74}{913.3}{D75}{D76}{100}
    \clade{d75}{670.8}{d73}{d74}{}
    \stub{d0}{653.8}{d75}
    % scale
    \coordinate (sbD1) at (720.5,1511.8); \coordinate (sbD2) at (802.3,1511.8);
    \draw[scalebar] (sbD1) -- (sbD2);
    \node[scalelabel] (sbDt) at (769,1524) {0.01};
  \end{scope}
\end{tikzpicture}
\end{document}
